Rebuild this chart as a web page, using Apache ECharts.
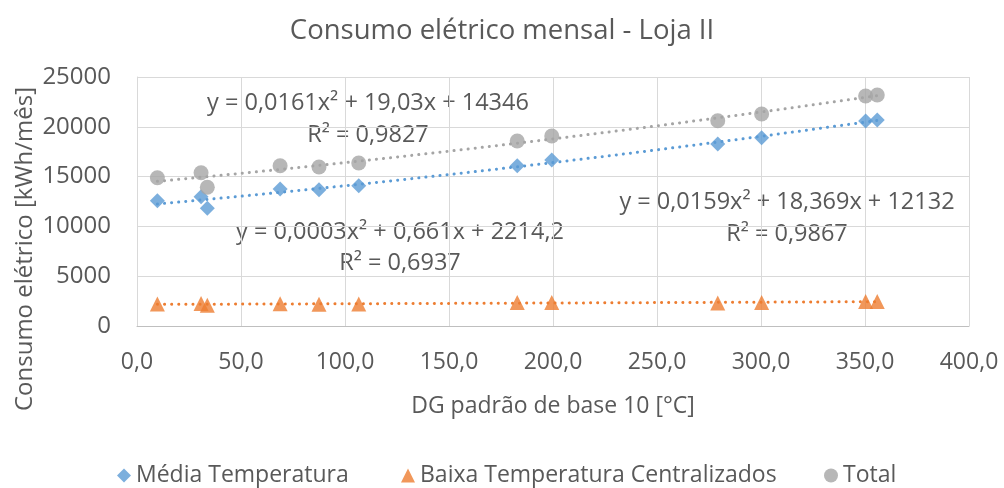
<!DOCTYPE html>
<html>
<head>
<meta charset="utf-8">
<script src="https://cdn.jsdelivr.net/npm/echarts@6/dist/echarts.min.js"></script>
<style>
html,body{margin:0;padding:0;background:#fff;}
#chart{width:1004px;height:488px;}
</style>
</head>
<body>
<div id="chart"></div>
<script>
// Degree-days (x) for each month
const dgValues = [9.8, 30.8, 33.8, 68.8, 87.5, 106.6, 182.8, 199.4, 279.2, 300.3, 350.3, 355.9];
// Consumption values [kWh/mês]
const mediaValues = [12580, 12980, 11820, 13750, 13690, 14090, 16090, 16670, 18270, 18900, 20580, 20680];
const baixaValues = [2210, 2250, 2080, 2240, 2180, 2220, 2360, 2350, 2320, 2350, 2450, 2470];
const totalValues = [14890, 15390, 13930, 16090, 15960, 16370, 18570, 19080, 20610, 21290, 23090, 23190];

const seriesNames = ['Média Temperatura', 'Baixa Temperatura Centralizados', 'Total'];
const xTickValues = [0, 50, 100, 150, 200, 250, 300, 350, 400];
const yTickValues = [0, 5000, 10000, 15000, 20000, 25000];

const eqTotal = ['y = 0,0161x² + 19,03x + 14346', 'R² = 0,9827'];
const eqBaixa = ['y = 0,0003x² + 0,661x + 2214,2', 'R² = 0,6937'];
const eqMedia = ['y = 0,0159x² + 18,369x + 12132', 'R² = 0,9867'];

const colors = ['#5B9BD5', '#ED7D31', '#A5A5A5'];
const FONT = 'Open Sans';
const TXT = '#595959';
const FS = 23;

function quadFit(xs, ys) {
  let S = [0,0,0,0,0], T = [0,0,0];
  for (let i = 0; i < xs.length; i++) {
    const x = xs[i], y = ys[i];
    let p = 1;
    for (let k = 0; k < 5; k++) { S[k] += p; if (k < 3) T[k] += p * y; p *= x; }
  }
  const M = [[S[0],S[1],S[2],T[0]],[S[1],S[2],S[3],T[1]],[S[2],S[3],S[4],T[2]]];
  for (let i = 0; i < 3; i++) {
    for (let j = i + 1; j < 3; j++) {
      const f = M[j][i] / M[i][i];
      for (let k = i; k < 4; k++) M[j][k] -= f * M[i][k];
    }
  }
  const r = [0,0,0];
  for (let i = 2; i >= 0; i--) {
    let s = M[i][3];
    for (let k = i + 1; k < 3; k++) s -= M[i][k] * r[k];
    r[i] = s / M[i][i];
  }
  return r;
}
function trend(xs, ys) {
  const [a, b, c] = quadFit(xs, ys);
  const x0 = Math.min(...xs), x1 = Math.max(...xs);
  const pts = [];
  const n = 60;
  for (let i = 0; i <= n; i++) {
    const x = x0 + (x1 - x0) * i / n;
    pts.push([x, a + b * x + c * x * x]);
  }
  return pts;
}
const pair = (ys) => dgValues.map((x, i) => [x, ys[i]]);

const chart = echarts.init(document.getElementById('chart'));
const dot = (color) => ({ color: color, width: 3, type: [0.1, 7], cap: 'round' });
const txt = (t, x, y) => ({ type: 'text', position: [x, y],
  style: { text: t, font: '23.5px "' + FONT + '"', fill: TXT, textAlign: 'center', textVerticalAlign: 'middle' } });
const legendBase = {
  top: 459, itemWidth: 14, itemHeight: 14,
  textStyle: { fontFamily: FONT, fontSize: FS, color: TXT }
};

chart.setOption({
  animation: false,
  backgroundColor: '#fff',
  title: {
    text: 'Consumo elétrico mensal - Loja II',
    left: 'center', top: 12,
    textStyle: { fontFamily: FONT, fontSize: 27.5, fontWeight: 'normal', color: TXT }
  },
  legend: [
    Object.assign({}, legendBase, { left: 112, data: [{ name: seriesNames[0], icon: 'diamond' }] }),
    Object.assign({}, legendBase, { left: 396, data: [{ name: seriesNames[1], icon: 'triangle' }] }),
    Object.assign({}, legendBase, { left: 819, data: [{ name: seriesNames[2], icon: 'circle' }] })
  ],
  grid: { left: 137, right: 35, top: 77, bottom: 162 },
  xAxis: {
    type: 'value', min: 0, max: 400, interval: 50,
    name: 'DG padrão de base 10 [°C]', nameLocation: 'middle', nameGap: 69,
    nameTextStyle: { fontFamily: FONT, fontSize: FS, color: TXT, verticalAlign: 'top' },
    axisLine: { show: true, lineStyle: { color: '#BFBFBF', width: 1 } },
    axisTick: { show: false },
    splitLine: { show: true, lineStyle: { color: '#D9D9D9', width: 1 } },
    axisLabel: {
      fontFamily: FONT, fontSize: FS, color: TXT, margin: 25,
      formatter: v => v.toFixed(1).replace('.', ',')
    }
  },
  yAxis: {
    type: 'value', min: 0, max: 25000, interval: 5000,
    axisLine: { show: true, lineStyle: { color: '#D9D9D9', width: 1 } },
    axisTick: { show: false },
    splitLine: { show: true, lineStyle: { color: '#D9D9D9', width: 1 } },
    axisLabel: { fontFamily: FONT, fontSize: 24, color: TXT, margin: 26, formatter: v => String(v) }
  },
  graphic: [
    { type: 'text', position: [25, 249], rotation: Math.PI / 2,
      style: { text: 'Consumo elétrico [kWh/mês]', font: '24px "' + FONT + '"', fill: TXT, textAlign: 'center', textVerticalAlign: 'middle' } },
    txt(eqTotal[0], 368, 103), txt(eqTotal[1], 368, 135),
    txt(eqBaixa[0], 400, 232), txt(eqBaixa[1], 400, 263),
    txt(eqMedia[0], 787, 202), txt(eqMedia[1], 787, 234)
  ],
  series: [
    { name: 'trendTotal', type: 'line', data: trend(dgValues, totalValues), showSymbol: false, symbol: 'none', lineStyle: dot(colors[2]), silent: true, z: 1 },
    { name: 'trendMedia', type: 'line', data: trend(dgValues, mediaValues), showSymbol: false, symbol: 'none', lineStyle: dot(colors[0]), silent: true, z: 1 },
    { name: 'trendBaixa', type: 'line', data: trend(dgValues, baixaValues), showSymbol: false, symbol: 'none', lineStyle: dot(colors[1]), silent: true, z: 1 },
    { name: seriesNames[0], type: 'scatter', data: pair(mediaValues), symbol: 'diamond', symbolSize: [15, 15], itemStyle: { color: colors[0] }, z: 3 },
    { name: seriesNames[1], type: 'scatter', data: pair(baixaValues), symbol: 'triangle', symbolSize: [15, 15], itemStyle: { color: colors[1] }, z: 3 },
    { name: seriesNames[2], type: 'scatter', data: pair(totalValues), symbol: 'circle', symbolSize: 15, itemStyle: { color: colors[2] }, z: 3 }
  ]
});
</script>
</body>
</html>
